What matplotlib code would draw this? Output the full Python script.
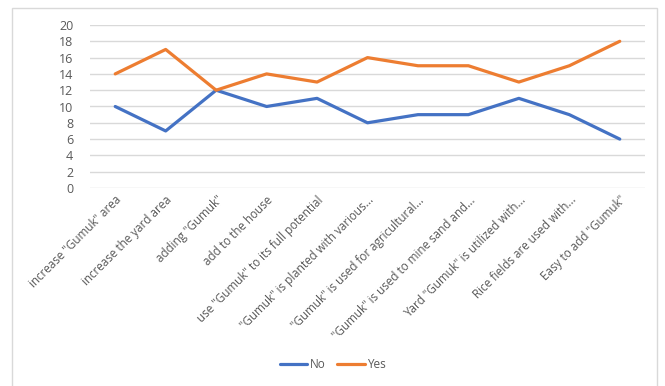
import matplotlib
matplotlib.use("Agg")
import matplotlib.pyplot as plt
from matplotlib.patches import Rectangle

categories = ['increase "Gumuk" area', 'increase the yard area', 'adding "Gumuk"',
              'add to the house', 'use "Gumuk" to its full potential',
              '"Gumuk" is planted with various...', '"Gumuk" is used for agricultural...',
              '"Gumuk" is used to mine sand and...', 'Yard "Gumuk" is utilized with...',
              'Rice fields are used with...', 'Easy to add "Gumuk"']
no_vals = [10, 7, 12, 10, 11, 8, 9, 9, 11, 9, 6]
yes_vals = [14, 17, 12, 14, 13, 16, 15, 15, 13, 15, 18]
y_ticks = list(range(0, 21, 2))


def main():
    plt.rcParams['font.family'] = ['Open Sans', 'DejaVu Sans']
    fig = plt.figure(figsize=(6.65, 3.86), dpi=100)
    fig.patches.append(Rectangle((12 / 665, -0.01), 645 / 665, 1 - 8 / 386 + 0.01,
                                 transform=fig.transFigure, fill=False,
                                 edgecolor='#D9D9D9', linewidth=1))
    ax = fig.add_axes([90 / 665, 1 - 188 / 386, 555 / 665, 163 / 386])

    x = range(len(categories))
    ax.plot(x, no_vals, color='#4472C4', linewidth=2.3, label='No', solid_capstyle='round')
    ax.plot(x, yes_vals, color='#ED7D31', linewidth=2.3, label='Yes', solid_capstyle='round')

    ax.set_xlim(-0.5, len(categories) - 0.5)
    ax.set_ylim(0, 20)
    ax.set_yticks(y_ticks)
    ax.yaxis.grid(True, color='#D9D9D9', linewidth=1)
    ax.set_axisbelow(True)
    for s in ax.spines.values():
        s.set_visible(False)
    ax.tick_params(axis='both', length=0, colors='#595959')
    ax.tick_params(axis='y', labelsize=9, pad=12)
    ax.set_xticks(list(x))
    ax.set_xticklabels(categories, rotation=45, ha='right', rotation_mode='anchor',
                       fontsize=8.4)
    ax.tick_params(axis='x', pad=4)

    fig.legend(loc='center', bbox_to_anchor=(333 / 665, 1 - 365 / 386), ncol=2,
               frameon=False, fontsize=8.5, handlelength=2.3, handletextpad=0.2,
               columnspacing=1.0, labelcolor='#595959')

    fig.savefig('out.png', dpi=100)


if __name__ == "__main__":
    main()
